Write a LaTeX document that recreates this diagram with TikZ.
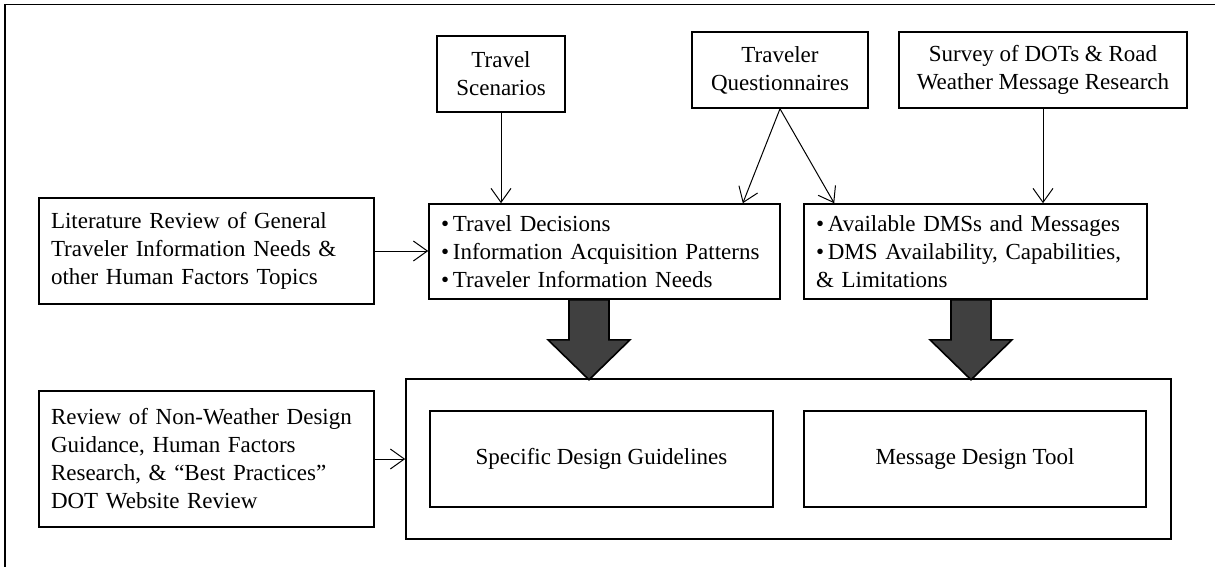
\documentclass[tikz,border=0pt]{standalone}
\usepackage{fontspec}
\setmainfont{Liberation Serif}
\usetikzlibrary{arrows.meta}
\definecolor{arrowgray}{HTML}{404040}

\begin{document}
\begin{tikzpicture}[x=0.5pt, y=-0.5pt, font=\fontsize{11.5}{14}\selectfont]
        \tikzstyle{box} = [draw=black, line width=0.8pt, inner xsep=6pt, inner ysep=0pt]
        \tikzstyle{source} = [box, align=center, minimum height=38pt]
        \tikzstyle{notes} = [box, align=left]
        \tikzstyle{result} = [box, align=center, minimum height=48pt]
        \tikzstyle{arrow} = [line width=0.5pt, -{Straight Barb[length=7pt, width=10pt]}]
        \tikzstyle{bigarrow} = [draw=black, line width=0.8pt, fill=arrowgray]

        \useasboundingbox (0,0) rectangle (1215,567);
        \clip (0,0) rectangle (1215,567);
        \draw [line width=0.9pt] (5,4.5) rectangle (1240,600);

        % Nodes
        \node (scenarios) [source, minimum width=64pt] at (501,74) {Travel\\Scenarios};
        \node (questions) [source, minimum width=88pt] at (780,70) {Traveler\\Questionnaires};
        \node (survey) [source, minimum width=144pt] at (1043,70) {Survey of DOTs \& Road\\Weather Message Research};
        \node (literature) [notes, text width=155.5pt, minimum height=53pt] at (206.5,251) {Literature Review of General\\Traveler Information Needs \&\\other Human Factors Topics};
        \node (travel) [notes, text width=163.5pt, minimum height=47.5pt] at (604.5,251.5) {\textbullet\,Travel Decisions\\\textbullet\,Information Acquisition Patterns\\\textbullet\,Traveler Information Needs};
        \node (dms) [notes, text width=159.5pt, minimum height=47.5pt] at (975.5,251.5) {\textbullet\,Available DMSs and Messages\\\textbullet\,DMS Availability, Capabilities,\\\& Limitations};
        \node (review) [notes, text width=155.5pt, minimum height=68pt] at (206.5,459) {Review of Non-Weather Design\\Guidance, Human Factors\\Research, \& “Best Practices”\\DOT Website Review};
        \node (output) [box, minimum width=382.5pt, minimum height=80pt] at (788.5,459) {};
        \node (guidelines) [result, minimum width=171.5pt] at (601.5,459) {Specific Design Guidelines};
        \node (tool) [result, minimum width=171pt] at (975,459) {Message Design Tool};

        % Arrows
        \draw [arrow] (scenarios) -- (travel.north -| scenarios);
        \draw [arrow] (questions.south) -- ([xshift=-19pt]travel.north east);
        \draw [arrow] (questions.south) -- ([xshift=15.5pt]dms.north west);
        \draw [arrow] (survey) -- (dms.north -| survey);
        \draw [arrow] (literature.east) -- (literature.east -| travel.west);
        \draw [arrow] (review) -- (output);

        % Block arrows
        \draw [bigarrow] ([xshift=-7.75pt]travel.south) ++(-20,0) -- ++(0,40) -- ++(-21,0) -- ++(41,40) -- ++(41,-40) -- ++(-21,0) -- ++(0,-40) -- cycle;
        \draw [bigarrow] ([xshift=-2.25pt]dms.south) ++(-20,0) -- ++(0,40) -- ++(-21,0) -- ++(41,40) -- ++(41,-40) -- ++(-21,0) -- ++(0,-40) -- cycle;

\end{tikzpicture}
\end{document}
